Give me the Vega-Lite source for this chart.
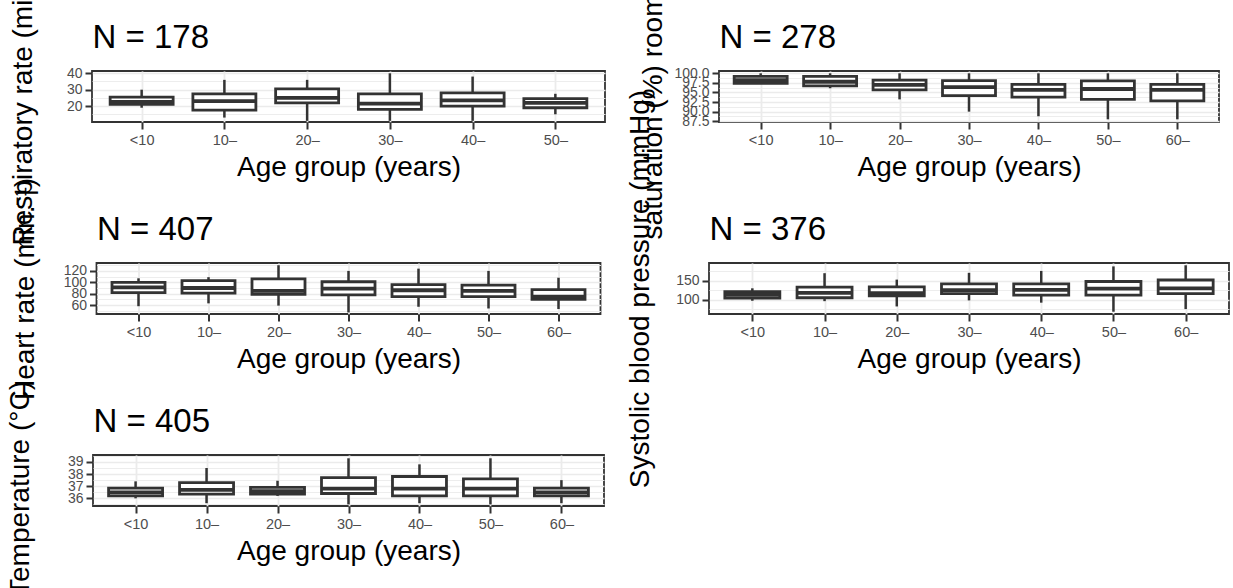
{
  "$schema": "https://vega.github.io/schema/vega-lite/v6.json",
  "autosize": {"type": "none"},
  "padding": {"left": 92, "top": 71, "right": 1141, "bottom": 517},
  "background": "white",
  "bounds": "full",
  "spacing": 19,
  "datasets": {
    "rr": [
      {"age": "<10", "lw": 19, "q1": 21, "med": 22.5, "q3": 25.5, "uw": 30},
      {"age": "10–", "lw": 13, "q1": 17.5, "med": 23, "q3": 27.5, "uw": 36},
      {"age": "20–", "lw": 11, "q1": 22, "med": 25, "q3": 30.5, "uw": 36},
      {"age": "30–", "lw": 11, "q1": 18, "med": 21.5, "q3": 27.5, "uw": 40},
      {"age": "40–", "lw": 11, "q1": 20, "med": 23.5, "q3": 28, "uw": 38},
      {"age": "50–", "lw": 15, "q1": 19, "med": 22, "q3": 24.5, "uw": 27.5}
    ],
    "spo2": [
      {"age": "<10", "lw": 97.2, "q1": 97.4, "med": 98.2, "q3": 99.2, "uw": 100},
      {"age": "10–", "lw": 96.1, "q1": 96.7, "med": 97.8, "q3": 99.2, "uw": 100},
      {"age": "20–", "lw": 93.2, "q1": 95.7, "med": 97, "q3": 98.2, "uw": 100},
      {"age": "30–", "lw": 90, "q1": 94.2, "med": 96.4, "q3": 98.1, "uw": 100},
      {"age": "40–", "lw": 88.8, "q1": 93.8, "med": 95.7, "q3": 97.1, "uw": 100},
      {"age": "50–", "lw": 88, "q1": 93.2, "med": 95.9, "q3": 98, "uw": 100},
      {"age": "60–", "lw": 88, "q1": 92.8, "med": 95.7, "q3": 97.1, "uw": 100}
    ],
    "hr": [
      {"age": "<10", "lw": 58, "q1": 82, "med": 91, "q3": 100, "uw": 107},
      {"age": "10–", "lw": 63, "q1": 81, "med": 90, "q3": 103, "uw": 109},
      {"age": "20–", "lw": 59, "q1": 79, "med": 85, "q3": 106, "uw": 130},
      {"age": "30–", "lw": 47, "q1": 78, "med": 89, "q3": 101, "uw": 120},
      {"age": "40–", "lw": 57, "q1": 75, "med": 86, "q3": 96, "uw": 124},
      {"age": "50–", "lw": 54, "q1": 75, "med": 85, "q3": 95, "uw": 120},
      {"age": "60–", "lw": 53, "q1": 70, "med": 75, "q3": 87, "uw": 108}
    ],
    "sbp": [
      {"age": "<10", "lw": 97, "q1": 104, "med": 113, "q3": 121, "uw": 130},
      {"age": "10–", "lw": 96, "q1": 105, "med": 118, "q3": 133, "uw": 170},
      {"age": "20–", "lw": 82, "q1": 110, "med": 117, "q3": 134, "uw": 153},
      {"age": "30–", "lw": 98, "q1": 116, "med": 125, "q3": 142, "uw": 171},
      {"age": "40–", "lw": 92, "q1": 112, "med": 126, "q3": 142, "uw": 176},
      {"age": "50–", "lw": 68, "q1": 112, "med": 129, "q3": 148, "uw": 188},
      {"age": "60–", "lw": 75, "q1": 116, "med": 130, "q3": 152, "uw": 191}
    ],
    "temp": [
      {"age": "<10", "lw": 36, "q1": 36.2, "med": 36.5, "q3": 36.85, "uw": 37.4},
      {"age": "10–", "lw": 35.6, "q1": 36.35, "med": 36.7, "q3": 37.3, "uw": 38.5},
      {"age": "20–", "lw": 36.2, "q1": 36.35, "med": 36.6, "q3": 36.9, "uw": 37.45},
      {"age": "30–", "lw": 35.5, "q1": 36.4, "med": 36.8, "q3": 37.7, "uw": 39.3},
      {"age": "40–", "lw": 35.6, "q1": 36.2, "med": 36.8, "q3": 37.8, "uw": 38.8},
      {"age": "50–", "lw": 35.5, "q1": 36.2, "med": 36.8, "q3": 37.6, "uw": 39.3},
      {"age": "60–", "lw": 35.6, "q1": 36.2, "med": 36.5, "q3": 36.85, "uw": 37.5}
    ]
  },
  "hconcat": [
    {
      "bounds": "flush",
      "center": true,
      "spacing": 141,
      "vconcat": [
        {
          "width": 513, "height": 51,
          "data": {"name": "rr"},
          "resolve": {"axis": {"x": "independent", "y": "independent"}},
          "layer": [
            {
              "mark": {"type": "rule", "color": "#333333", "strokeWidth": 2.5},
              "encoding": {
                "x": {"field": "age", "type": "nominal", "sort": null, "scale": {"type": "point", "padding": 0.6},
                      "axis": {"title": "Age group (years)", "grid": true, "gridColor": "#EBEBEB", "gridWidth": 1.8, "labelAngle": 0, "labelFontSize": 14.5, "labelColor": "#4D4D4D", "labelFont": "Liberation Sans", "labelPadding": 4, "tickSize": 7, "tickWidth": 2, "tickColor": "#333333", "domain": false, "titlePadding": 7}},
                "y": {"field": "lw", "type": "quantitative",
                      "scale": {"domain": [10.3, 41.4], "nice": false, "zero": false},
                      "axis": {"values": [20, 30, 40], "labelOverlap": false, "labelFontSize": 14, "labelColor": "#4D4D4D", "labelFont": "Liberation Sans", "labelPadding": 3, "tickSize": 7, "tickWidth": 2, "tickColor": "#333333", "gridColor": "#EBEBEB", "gridWidth": 1.7, "domain": false,
                               "title": "Respiratory rate (min.⁻¹)", "titleX": -61}},
                "y2": {"field": "uw"}
              }
            },
            {
              "mark": {"type": "bar", "size": 63, "fill": "white", "stroke": "#333333", "strokeWidth": 2.8},
              "encoding": {
                "x": {"field": "age", "type": "nominal", "sort": null,
                      "axis": {"orient": "top", "labels": false, "ticks": false, "domain": false, "grid": false, "title": "N = 178"}},
                "y": {"field": "q1", "type": "quantitative",
                      "axis": {"orient": "left", "values": [15, 25, 35], "labels": false, "ticks": false, "domain": false, "grid": true, "gridColor": "#EBEBEB", "gridWidth": 0.9, "title": null}},
                "y2": {"field": "q3"}
              }
            },
            {
              "mark": {"type": "tick", "size": 63, "thickness": 3.8, "color": "#333333", "opacity": 1},
              "encoding": {
                "x": {"field": "age", "type": "nominal", "sort": null, "axis": null},
                "y": {"field": "med", "type": "quantitative", "axis": null}
              }
            }
          ]
        },
        {
          "width": 504, "height": 51,
          "data": {"name": "hr"},
          "resolve": {"axis": {"x": "independent", "y": "independent"}},
          "layer": [
            {
              "mark": {"type": "rule", "color": "#333333", "strokeWidth": 2.5},
              "encoding": {
                "x": {"field": "age", "type": "nominal", "sort": null, "scale": {"type": "point", "padding": 0.6},
                      "axis": {"title": "Age group (years)", "grid": true, "gridColor": "#EBEBEB", "gridWidth": 1.8, "labelAngle": 0, "labelFontSize": 14.5, "labelColor": "#4D4D4D", "labelFont": "Liberation Sans", "labelPadding": 4, "tickSize": 7, "tickWidth": 2, "tickColor": "#333333", "domain": false, "titlePadding": 7}},
                "y": {"field": "lw", "type": "quantitative",
                      "scale": {"domain": [44.3, 133.9], "nice": false, "zero": false},
                      "axis": {"values": [60, 80, 100, 120], "labelOverlap": false, "labelFontSize": 14, "labelColor": "#4D4D4D", "labelFont": "Liberation Sans", "labelPadding": 3, "tickSize": 7, "tickWidth": 2, "tickColor": "#333333", "gridColor": "#EBEBEB", "gridWidth": 1.7, "domain": false,
                               "title": "Heart rate (min.⁻¹)", "titleX": -63.5}},
                "y2": {"field": "uw"}
              }
            },
            {
              "mark": {"type": "bar", "size": 53, "fill": "white", "stroke": "#333333", "strokeWidth": 2.8},
              "encoding": {
                "x": {"field": "age", "type": "nominal", "sort": null,
                      "axis": {"orient": "top", "labels": false, "ticks": false, "domain": false, "grid": false, "title": "N = 407"}},
                "y": {"field": "q1", "type": "quantitative",
                      "axis": {"orient": "left", "values": [50, 70, 90, 110, 130], "labels": false, "ticks": false, "domain": false, "grid": true, "gridColor": "#EBEBEB", "gridWidth": 0.9, "title": null}},
                "y2": {"field": "q3"}
              }
            },
            {
              "mark": {"type": "tick", "size": 53, "thickness": 3.8, "color": "#333333", "opacity": 1},
              "encoding": {
                "x": {"field": "age", "type": "nominal", "sort": null, "axis": null},
                "y": {"field": "med", "type": "quantitative", "axis": null}
              }
            }
          ]
        },
        {
          "width": 511, "height": 51,
          "data": {"name": "temp"},
          "resolve": {"axis": {"x": "independent", "y": "independent"}},
          "layer": [
            {
              "mark": {"type": "rule", "color": "#333333", "strokeWidth": 2.5},
              "encoding": {
                "x": {"field": "age", "type": "nominal", "sort": null, "scale": {"type": "point", "padding": 0.6},
                      "axis": {"title": "Age group (years)", "grid": true, "gridColor": "#EBEBEB", "gridWidth": 1.8, "labelAngle": 0, "labelFontSize": 14.5, "labelColor": "#4D4D4D", "labelFont": "Liberation Sans", "labelPadding": 4, "tickSize": 7, "tickWidth": 2, "tickColor": "#333333", "domain": false, "titlePadding": 7}},
                "y": {"field": "lw", "type": "quantitative",
                      "scale": {"domain": [35.37, 39.57], "nice": false, "zero": false},
                      "axis": {"values": [36, 37, 38, 39], "labelOverlap": false, "labelFontSize": 14, "labelColor": "#4D4D4D", "labelFont": "Liberation Sans", "labelPadding": 3, "tickSize": 7, "tickWidth": 2, "tickColor": "#333333", "gridColor": "#EBEBEB", "gridWidth": 1.7, "domain": false,
                               "title": "Temperature (°C)", "titleX": -65, "titleY": 33}},
                "y2": {"field": "uw"}
              }
            },
            {
              "mark": {"type": "bar", "size": 54, "fill": "white", "stroke": "#333333", "strokeWidth": 2.8},
              "encoding": {
                "x": {"field": "age", "type": "nominal", "sort": null,
                      "axis": {"orient": "top", "labels": false, "ticks": false, "domain": false, "grid": false, "title": "N = 405"}},
                "y": {"field": "q1", "type": "quantitative",
                      "axis": {"orient": "left", "values": [35.5, 36.5, 37.5, 38.5, 39.5], "labels": false, "ticks": false, "domain": false, "grid": true, "gridColor": "#EBEBEB", "gridWidth": 0.9, "title": null}},
                "y2": {"field": "q3"}
              }
            },
            {
              "mark": {"type": "tick", "size": 54, "thickness": 3.8, "color": "#333333", "opacity": 1},
              "encoding": {
                "x": {"field": "age", "type": "nominal", "sort": null, "axis": null},
                "y": {"field": "med", "type": "quantitative", "axis": null}
              }
            }
          ]
        }
      ]
    },
    {
      "bounds": "flush",
      "center": true,
      "spacing": 141,
      "vconcat": [
        {
          "width": 500, "height": 51,
          "data": {"name": "spo2"},
          "resolve": {"axis": {"x": "independent", "y": "independent"}},
          "layer": [
            {
              "mark": {"type": "rule", "color": "#333333", "strokeWidth": 2.5},
              "encoding": {
                "x": {"field": "age", "type": "nominal", "sort": null, "scale": {"type": "point", "padding": 0.6},
                      "axis": {"title": "Age group (years)", "grid": true, "gridColor": "#EBEBEB", "gridWidth": 1.8, "labelAngle": 0, "labelFontSize": 14.5, "labelColor": "#4D4D4D", "labelFont": "Liberation Sans", "labelPadding": 4, "tickSize": 7, "tickWidth": 2, "tickColor": "#333333", "domain": false, "titlePadding": 7}},
                "y": {"field": "lw", "type": "quantitative",
                      "scale": {"domain": [87.3, 100.6], "nice": false, "zero": false},
                      "axis": {"values": [87.5, 90, 92.5, 95, 97.5, 100], "format": ".1f", "labelOverlap": false, "labelFontSize": 14, "labelColor": "#4D4D4D", "labelFont": "Liberation Sans", "labelPadding": 3, "tickSize": 7, "tickWidth": 2, "tickColor": "#333333", "gridColor": "#EBEBEB", "gridWidth": 1.7, "domain": false,
                               "title": "saturation (%) room air", "titleX": -58}},
                "y2": {"field": "uw"}
              }
            },
            {
              "mark": {"type": "bar", "size": 53, "fill": "white", "stroke": "#333333", "strokeWidth": 2.8},
              "encoding": {
                "x": {"field": "age", "type": "nominal", "sort": null,
                      "axis": {"orient": "top", "labels": false, "ticks": false, "domain": false, "grid": false, "title": "N = 278"}},
                "y": {"field": "q1", "type": "quantitative",
                      "axis": {"orient": "left", "values": [88.75, 91.25, 93.75, 96.25, 98.75], "labels": false, "ticks": false, "domain": false, "grid": true, "gridColor": "#EBEBEB", "gridWidth": 0.9, "title": null}},
                "y2": {"field": "q3"}
              }
            },
            {
              "mark": {"type": "tick", "size": 53, "thickness": 3.8, "color": "#333333", "opacity": 1},
              "encoding": {
                "x": {"field": "age", "type": "nominal", "sort": null, "axis": null},
                "y": {"field": "med", "type": "quantitative", "axis": null}
              }
            }
          ]
        },
        {
          "width": 520, "height": 51,
          "data": {"name": "sbp"},
          "resolve": {"axis": {"x": "independent", "y": "independent"}},
          "layer": [
            {
              "mark": {"type": "rule", "color": "#333333", "strokeWidth": 2.5},
              "encoding": {
                "x": {"field": "age", "type": "nominal", "sort": null, "scale": {"type": "point", "padding": 0.6},
                      "axis": {"title": "Age group (years)", "grid": true, "gridColor": "#EBEBEB", "gridWidth": 1.8, "labelAngle": 0, "labelFontSize": 14.5, "labelColor": "#4D4D4D", "labelFont": "Liberation Sans", "labelPadding": 4, "tickSize": 7, "tickWidth": 2, "tickColor": "#333333", "domain": false, "titlePadding": 7}},
                "y": {"field": "lw", "type": "quantitative",
                      "scale": {"domain": [62, 197], "nice": false, "zero": false},
                      "axis": {"values": [100, 150], "labelOverlap": false, "labelFontSize": 14, "labelColor": "#4D4D4D", "labelFont": "Liberation Sans", "labelPadding": 3, "tickSize": 7, "tickWidth": 2, "tickColor": "#333333", "gridColor": "#EBEBEB", "gridWidth": 1.7, "domain": false,
                               "title": "Systolic blood pressure (mmHg)", "titleX": -61}},
                "y2": {"field": "uw"}
              }
            },
            {
              "mark": {"type": "bar", "size": 55, "fill": "white", "stroke": "#333333", "strokeWidth": 2.8},
              "encoding": {
                "x": {"field": "age", "type": "nominal", "sort": null,
                      "axis": {"orient": "top", "labels": false, "ticks": false, "domain": false, "grid": false, "title": "N = 376"}},
                "y": {"field": "q1", "type": "quantitative",
                      "axis": {"orient": "left", "values": [75, 125, 175], "labels": false, "ticks": false, "domain": false, "grid": true, "gridColor": "#EBEBEB", "gridWidth": 0.9, "title": null}},
                "y2": {"field": "q3"}
              }
            },
            {
              "mark": {"type": "tick", "size": 55, "thickness": 3.8, "color": "#333333", "opacity": 1},
              "encoding": {
                "x": {"field": "age", "type": "nominal", "sort": null, "axis": null},
                "y": {"field": "med", "type": "quantitative", "axis": null}
              }
            }
          ]
        }
      ]
    }
  ],
  "config": {
    "font": "Liberation Sans",
    "view": {"stroke": "#333333", "strokeWidth": 1.8},
    "axis": {
      "titleFont": "Liberation Sans", "titleFontSize": 28, "titleFontWeight": "normal", "titleColor": "#000000",
      "labelFlush": false, "labelBound": false
    },
    "axisLeft": {"titleAngle": 270, "titleBaseline": "alphabetic"},
    "axisTop": {"titleX": 0, "titleY": -24, "titleAlign": "left", "titleAnchor": null, "titleBaseline": "alphabetic", "titleAngle": 0, "titleFontSize": 33}
  }
}
